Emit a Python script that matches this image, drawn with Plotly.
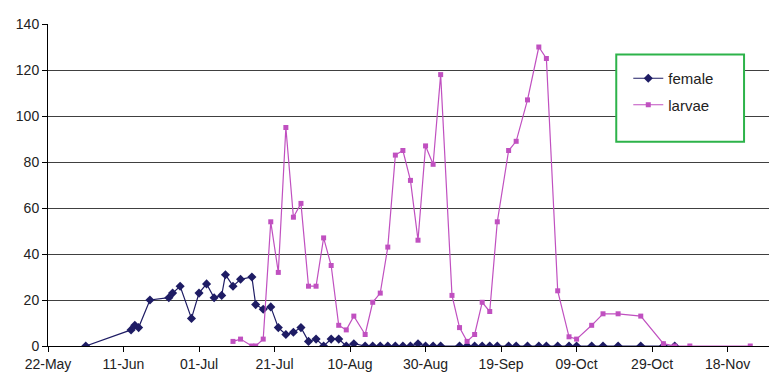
import plotly.graph_objects as go

female_dates = ["2008-06-01", "2008-06-13", "2008-06-14", "2008-06-15", "2008-06-18", "2008-06-23",
                "2008-06-24", "2008-06-26", "2008-06-29", "2008-07-01", "2008-07-03", "2008-07-05",
                "2008-07-07", "2008-07-08", "2008-07-10", "2008-07-12", "2008-07-15", "2008-07-16",
                "2008-07-18", "2008-07-20", "2008-07-22", "2008-07-24", "2008-07-26", "2008-07-28",
                "2008-07-30", "2008-08-01", "2008-08-03", "2008-08-05", "2008-08-07", "2008-08-09",
                "2008-08-11", "2008-08-14", "2008-08-16", "2008-08-18", "2008-08-20", "2008-08-22",
                "2008-08-24", "2008-08-26", "2008-08-28", "2008-08-30", "2008-09-01", "2008-09-03",
                "2008-09-08", "2008-09-10", "2008-09-12", "2008-09-14", "2008-09-16", "2008-09-18",
                "2008-09-21", "2008-09-23", "2008-09-26", "2008-09-29", "2008-10-01", "2008-10-04",
                "2008-10-07", "2008-10-09", "2008-10-13", "2008-10-16", "2008-10-20", "2008-10-26",
                "2008-11-01", "2008-11-04"]
female_values = [0, 7, 9, 8, 20, 21,
                 23, 26, 12, 23, 27, 21,
                 22, 31, 26, 29, 30, 18,
                 16, 17, 8, 5, 6, 8,
                 2, 3, 0, 3, 3, 0,
                 1, 0, 0, 0, 0, 0,
                 0, 0, 1, 0, 0, 0,
                 0, 0, 0, 0, 0, 0,
                 0, 0, 0, 0, 0, 0,
                 0, 0, 0, 0, 0, 0,
                 0, 0]

larvae_dates = ["2008-07-10", "2008-07-12", "2008-07-15", "2008-07-16", "2008-07-18", "2008-07-20",
                "2008-07-22", "2008-07-24", "2008-07-26", "2008-07-28", "2008-07-30", "2008-08-01",
                "2008-08-03", "2008-08-05", "2008-08-07", "2008-08-09", "2008-08-11", "2008-08-14",
                "2008-08-16", "2008-08-18", "2008-08-20", "2008-08-22", "2008-08-24", "2008-08-26",
                "2008-08-28", "2008-08-30", "2008-09-01", "2008-09-03", "2008-09-06", "2008-09-08",
                "2008-09-10", "2008-09-12", "2008-09-14", "2008-09-16", "2008-09-18", "2008-09-21",
                "2008-09-23", "2008-09-26", "2008-09-29", "2008-10-01", "2008-10-04", "2008-10-07",
                "2008-10-09", "2008-10-13", "2008-10-16", "2008-10-20", "2008-10-26", "2008-11-01",
                "2008-11-04", "2008-11-08", "2008-11-24"]
larvae_values = [2, 3, 0, 0, 3, 54,
                 32, 95, 56, 62, 26, 26,
                 47, 35, 9, 7, 13, 5,
                 19, 23, 43, 83, 85, 72,
                 46, 87, 79, 118, 22, 8,
                 2, 5, 19, 15, 54, 85,
                 89, 107, 130, 125, 24, 4,
                 3, 9, 14, 14, 13, 1,
                 0, 0, 0]

y_ticks = [0, 20, 40, 60, 80, 100, 120, 140]

FONT = "Liberation Sans, Arial, sans-serif"
NAVY = "#1e1c64"
MAGENTA = "#c050c0"

fig = go.Figure()
fig.add_trace(go.Scatter(
    x=female_dates, y=female_values, name="female", mode="lines+markers",
    line=dict(color=NAVY, width=1.2),
    marker=dict(symbol="diamond", size=7, color=NAVY),
    legendgroup="f"))
fig.add_trace(go.Scatter(
    x=larvae_dates, y=larvae_values, name="larvae", mode="lines+markers",
    line=dict(color=MAGENTA, width=1.2),
    marker=dict(symbol="square", size=5, color=MAGENTA),
    legendgroup="l"))

fig.update_layout(
    width=777, height=375,
    margin=dict(l=39, r=8, t=10, b=37),
    paper_bgcolor="white", plot_bgcolor="white",
    font=dict(family=FONT, size=14, color="#222222"),
    showlegend=True,
    legend=dict(x=0.796, y=0.882, xanchor="left", yanchor="top",
                bgcolor="rgba(0,0,0,0)", borderwidth=0,
                font=dict(family=FONT, size=15, color="#222222"),
                tracegroupgap=4, itemwidth=30),
    shapes=[dict(type="rect", xref="paper", yref="paper",
                 x0=0.7795, x1=0.9548, y0=0.634, y1=0.9055,
                 line=dict(color="#2db34a", width=2), fillcolor="white", layer="above")],
)
fig.update_xaxes(
    type="date", range=["2008-05-22", "2008-12-01 02:00"],
    tick0="2008-05-22", dtick=20 * 86400000, tickformat="%d-%b",
    ticks="outside", ticklen=5, tickcolor="#000000",
    showline=True, linecolor="#000000", linewidth=1,
    showgrid=False, zeroline=False,
    tickfont=dict(family=FONT, size=14, color="#222222"))
fig.update_yaxes(
    range=[0, 140], tickvals=y_ticks,
    ticks="outside", ticklen=5, tickcolor="#000000",
    showline=True, linecolor="#000000", linewidth=1,
    showgrid=True, gridcolor="#404040", gridwidth=1,
    zeroline=False,
    tickfont=dict(family=FONT, size=14, color="#222222"))

fig.write_html("out.html")
